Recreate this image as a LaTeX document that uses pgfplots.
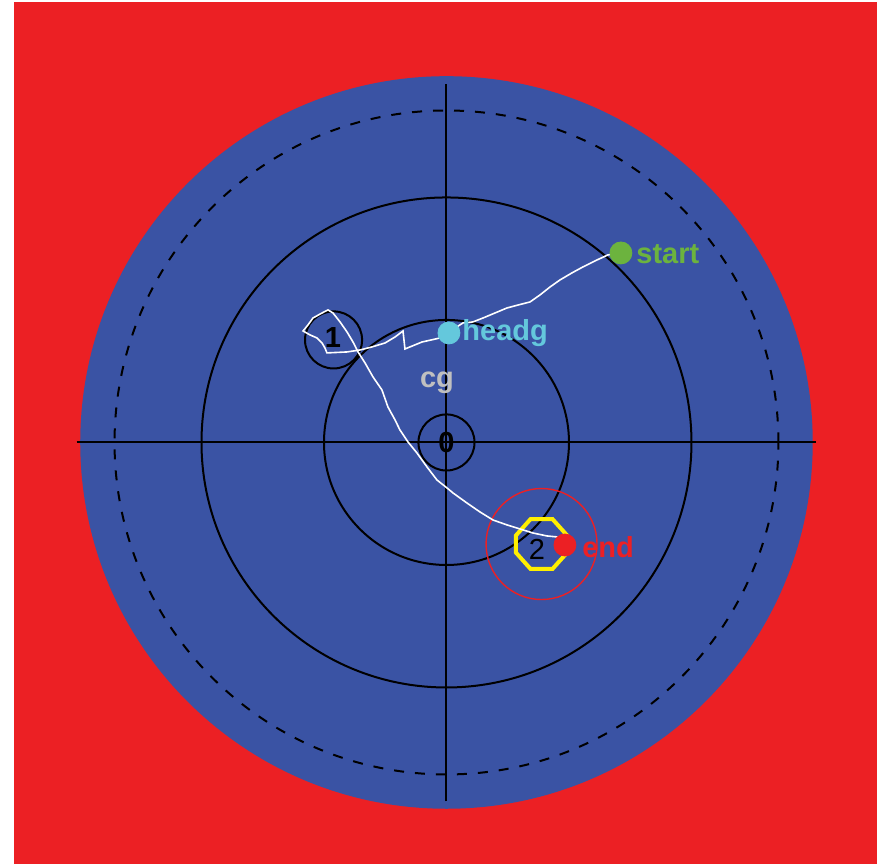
\documentclass[border=0pt]{standalone}
\usepackage{pgfplots}
\pgfplotsset{compat=1.18}
\usepackage{fontspec}
\setmainfont{Liberation Sans}
\definecolor{bgred}{RGB}{236,32,36}
\definecolor{discblue}{RGB}{58,83,164}
\definecolor{startgreen}{RGB}{108,179,62}
\definecolor{headcyan}{RGB}{100,200,220}
\definecolor{cggray}{RGB}{192,192,192}
\definecolor{octyellow}{RGB}{255,239,0}
\newcommand{\lbl}{\fontsize{14.5}{16}\selectfont\bfseries}
\begin{document}
\begin{tikzpicture}
\begin{axis}[
  hide axis, scale only axis,
  width=439.5pt, height=432.5pt,
  xmin=-3.645, xmax=3.531, ymin=-3.449, ymax=3.612,
  clip=false,
]
% page background and red field
\addplot[fill=white, draw=none] coordinates {(-3.645,-3.449) (3.531,-3.449) (3.531,3.612) (-3.645,3.612)} -- cycle;
\addplot[fill=bgred, draw=none] coordinates {(-3.531,-3.441) (3.514,-3.441) (3.514,3.596) (-3.531,3.596)} -- cycle;
% blue disc
\fill[discblue] (axis cs:0,0) circle[radius=2.99];
% rings
\draw[black, line width=1pt, dash pattern=on 5pt off 5.5pt] (axis cs:0,0) circle[radius=2.71];
\draw[black, line width=1pt] (axis cs:0,0) circle[radius=2.0];
\draw[black, line width=1pt] (axis cs:0,0) circle[radius=1.0];
\draw[black, line width=1pt] (axis cs:0,0) circle[radius=0.229];
% crosshair
\addplot[black, line width=1pt] coordinates {(-3.02,0) (3.02,0)};
\addplot[black, line width=1pt] coordinates {(0,-2.93) (0,2.93)};
% target circle 1
\draw[black, line width=1pt] (axis cs:-0.922,0.837) circle[radius=0.233];
% red tolerance circle around target 2
\draw[bgred, line width=0.7pt] (axis cs:0.776,-0.829) circle[radius=0.453];
% yellow octagon around target 2
\addplot[octyellow, line width=2pt] coordinates {
(0.986,-0.760) (0.866,-0.626) (0.686,-0.626) (0.566,-0.760)
(0.566,-0.898) (0.686,-1.032) (0.866,-1.032) (0.986,-0.898)} -- cycle;
% trajectory
\addplot[white, line width=0.8pt] coordinates {
(1.424,1.547) (1.318,1.531) (1.229,1.490) (1.114,1.433) (1.024,1.384) (0.927,1.327)
(0.845,1.269) (0.763,1.204) (0.682,1.147) (0.584,1.122) (0.494,1.098) (0.396,1.057)
(0.298,1.016) (0.216,0.984) (0.135,0.976) (0.045,0.918) (-0.053,0.853) (-0.200,0.820)
(-0.298,0.780) (-0.339,0.763) (-0.355,0.910) (-0.420,0.861) (-0.502,0.812) (-0.608,0.780)
(-0.706,0.755) (-0.812,0.739) (-0.976,0.731) (-0.992,0.771) (-1.016,0.812) (-1.057,0.853)
(-1.114,0.878) (-1.171,0.910) (-1.131,0.959) (-1.090,1.016) (-1.016,1.057) (-0.967,1.082)
(-0.927,1.057) (-0.869,0.984) (-0.812,0.902) (-0.763,0.820) (-0.722,0.739) (-0.665,0.649)
(-0.600,0.535) (-0.527,0.429) (-0.478,0.290) (-0.420,0.184) (-0.380,0.102) (-0.314,0.004)
(-0.241,-0.086) (-0.159,-0.200) (-0.078,-0.306) (0.004,-0.371) (0.053,-0.412) (0.167,-0.494)
(0.273,-0.567) (0.380,-0.633) (0.494,-0.673) (0.600,-0.706) (0.706,-0.739) (0.820,-0.763)
(0.902,-0.771) (0.967,-0.837)};
% markers
\addplot[only marks, mark=*, mark size=5.5pt, startgreen, mark options={draw=startgreen, fill=startgreen}] coordinates {(1.424,1.547)};
\addplot[only marks, mark=*, mark size=5.5pt, headcyan, mark options={draw=headcyan, fill=headcyan}] coordinates {(0.020,0.894)};
\addplot[only marks, mark=*, mark size=5.5pt, bgred, mark options={draw=bgred, fill=bgred}] coordinates {(0.967,-0.837)};
% labels
\node[anchor=west, text=startgreen, inner sep=0pt, font=\lbl] at (axis cs:1.547,1.539) {start};
\node[anchor=west, text=headcyan, inner sep=0pt, font=\lbl] at (axis cs:0.127,0.894) {headg};
\node[anchor=west, text=bgred, inner sep=0pt, font=\lbl] at (axis cs:1.106,-0.853) {end};
\node[text=cggray, inner sep=0pt, font=\lbl] at (axis cs:-0.078,0.486) {cg};
\node[text=black, inner sep=0pt, font=\lbl] at (axis cs:-0.927,0.853) {1};
\node[text=black, inner sep=0pt, font=\lbl] at (axis cs:0,0) {0};
\node[text=black, inner sep=0pt, font=\fontsize{14.5}{16}\selectfont] at (axis cs:0.739,-0.869) {2};
\end{axis}
\end{tikzpicture}
\end{document}
